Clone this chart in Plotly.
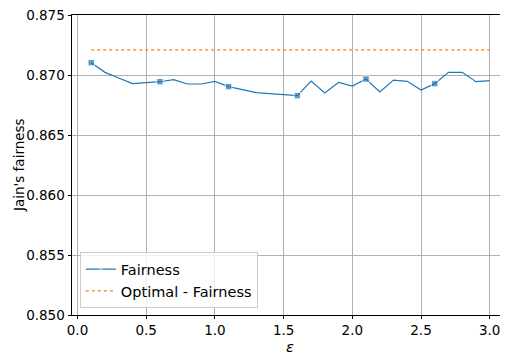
import plotly.graph_objects as go

eps = [round(0.1 * i, 1) for i in range(1, 31)]
fairness = [0.87103, 0.87022, 0.86975, 0.86928, 0.86936, 0.86944, 0.86961, 0.86925, 0.86925, 0.86947,
            0.86903, 0.86875, 0.86853, 0.86844, 0.86833, 0.86828, 0.86950, 0.86850, 0.86939, 0.86908,
            0.86967, 0.86858, 0.86958, 0.86947, 0.86875, 0.86928, 0.87022, 0.87022, 0.86944, 0.86953]
optimal = [0.8721] * len(eps)
marker_every = 5

FONT = "DejaVu Sans"
# page body has an 8px default margin, so the figure is drawn 8px smaller and offset
fig = go.Figure()
fig.add_trace(go.Scatter(
    x=eps, y=fairness, mode="lines+markers", name="Fairness",
    line=dict(color="#1f77b4", width=1.2),
    marker=dict(symbol="square", size=[6.5 if i % marker_every == 0 else 0 for i in range(len(eps))],
                color="#1f77b4"),
))
fig.add_trace(go.Scatter(
    x=eps, y=optimal, mode="lines", name="Optimal - Fairness",
    line=dict(color="#ff7f0e", width=1.2, dash="dot"),
))
fig.update_layout(
    width=500, height=348,
    margin=dict(l=64, r=0, t=7, b=41, autoexpand=False),
    plot_bgcolor="white", paper_bgcolor="white",
    font=dict(family=FONT, size=13, color="black"),
    showlegend=True,
    legend=dict(x=0.018, y=0.023, xanchor="left", yanchor="bottom",
                bgcolor="rgba(255,255,255,0.8)", bordercolor="#cccccc", borderwidth=1,
                font=dict(size=14.5, family=FONT), itemwidth=30),
    annotations=[
        dict(text="<i>ε</i>", x=0.5, y=-0.105, xref="paper", yref="paper",
             xanchor="center", yanchor="middle", showarrow=False,
             font=dict(size=14.5, family=FONT)),
        dict(text="Jain's fairness", x=-0.1216, y=0.5, xref="paper", yref="paper",
             xanchor="center", yanchor="middle", textangle=-90, showarrow=False,
             font=dict(size=13.5, family=FONT)),
    ],
)
fig.update_xaxes(
    range=[-0.04, 3.133], tickvals=[0.0, 0.5, 1.0, 1.5, 2.0, 2.5, 3.0],
    ticktext=["0.0", "0.5", "1.0", "1.5", "2.0", "2.5", "3.0"],
    showgrid=True, gridcolor="#b0b0b0", gridwidth=1,
    showline=True, linecolor="black", linewidth=1, mirror=True,
    ticks="outside", ticklen=3, tickcolor="black",
    tickfont=dict(size=13.5), zeroline=False, automargin=False,
    ticklabeloverflow="allow",
)
fig.update_yaxes(
    range=[0.850, 0.875], dtick=0.005, tickformat=".3f",
    showgrid=True, gridcolor="#b0b0b0", gridwidth=1,
    showline=True, linecolor="black", linewidth=1, mirror=True,
    ticks="outside", ticklen=3.5, tickcolor="black",
    tickfont=dict(size=13.5), zeroline=False, automargin=False,
    ticklabeloverflow="allow",
)
fig.write_html("out.html")
